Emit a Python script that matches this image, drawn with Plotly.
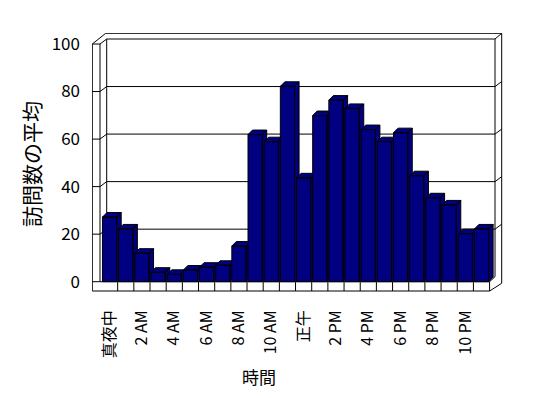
import plotly.graph_objects as go

# ---- data ----
hours = list(range(24))
visits = [27.2, 22.2, 12.0, 4.0, 3.1, 4.9, 6.1, 6.9, 15.0, 61.9, 58.9, 82.2,
          43.7, 69.9, 76.4, 72.9, 64.0, 58.9, 62.7, 44.6, 35.3, 32.3, 20.2, 22.2]
tick_hours = [0, 2, 4, 6, 8, 10, 12, 14, 16, 18, 20, 22]
tick_labels = ["真夜中", "2 AM", "4 AM", "6 AM", "8 AM", "10 AM", "正午",
               "2 PM", "4 PM", "6 PM", "8 PM", "10 PM"]
y_ticks = [0, 20, 40, 60, 80, 100]
x_title = "時間"
y_title = "訪問数の平均"

# ---- geometry helpers (pixel -> data for decorative frame) ----
CAT_PX = 16.17
X0_PX = 101.5       # pixel of category -0.5
Y0_PX = 281.7       # pixel of value 0
VAL_PX = 2.377      # pixels per unit
PAGE_OFF = 8        # default body margin of the html page


def dx(p):
    return (p - X0_PX) / CAT_PX - 0.5


def dy(p):
    return (Y0_PX - p) / VAL_PX


FONT = "Noto Sans CJK JP"
NAVY = "#000080"

XL_OUT = dx(92.3)
XL_IN = dx(100)
XB_L = dx(106.7)
XB_R = dx(495)
XO_R = dx(501.7)
XO_TL = dx(105.7)
X_FLOOR_R = 23.5
WDY = dy(276.7)          # back wall offset in value units
TOP = 100
FLOOR_B = dy(291)

# bar shape
HALF = 0.44
BDX = 4.5 / CAT_PX
BDY = 4.5 / VAL_PX

fig = go.Figure()

# frame / walls
wx, wy = [], []


def seg(pts):
    for p in pts:
        wx.append(p[0])
        wy.append(p[1])
    wx.append(None)
    wy.append(None)


seg([(XL_OUT, TOP), (XL_OUT, FLOOR_B), (X_FLOOR_R, FLOOR_B), (X_FLOOR_R, 0), (XL_OUT, 0)])
seg([(XL_IN, TOP), (XL_IN, 0)])
seg([(XB_L, TOP + WDY), (XB_L, WDY)])
seg([(XL_OUT, TOP), (XL_IN, TOP), (XB_L, TOP + WDY), (XB_R, TOP + WDY), (XB_R, WDY)])
seg([(XL_OUT, TOP), (XO_TL, dy(33.3)), (XO_R, dy(33.3)), (XO_R, dy(283.3)), (X_FLOOR_R, FLOOR_B)])
seg([(XB_R, TOP + WDY), (XO_R, dy(33.3))])
seg([(X_FLOOR_R, 0), (XB_R, WDY)])
for i in range(23):
    seg([(i + 0.5, 0), (i + 0.5, FLOOR_B)])

fig.add_trace(go.Scatter(x=wx, y=wy, mode="lines", line=dict(color="black", width=1),
                         hoverinfo="skip", showlegend=False, cliponaxis=False))

# gridlines on walls
gx, gy = [], []
for v in y_ticks[1:-1]:
    gx += [XL_OUT, XL_IN, XB_L, XB_R, XO_R, None]
    gy += [v, v, v + WDY, v + WDY, v + 2 * WDY, None]
fig.add_trace(go.Scatter(x=gx, y=gy, mode="lines", line=dict(color="black", width=1),
                         hoverinfo="skip", showlegend=False, cliponaxis=False))

# 3D bars, drawn left to right
for h, v in zip(hours, visits):
    l, r = h - HALF, h + HALF
    xs = [l, r, r, l, l, None,
          l, r, r + BDX, l + BDX, l, None,
          r, r + BDX, r + BDX, r, r]
    ys = [0, 0, v, v, 0, None,
          v, v, v + BDY, v + BDY, v, None,
          0, BDY, v + BDY, v, 0]
    fig.add_trace(go.Scatter(x=xs, y=ys, mode="lines", fill="toself", fillcolor=NAVY,
                             line=dict(color="black", width=1), showlegend=False,
                             hovertemplate=f"{h}: {v}<extra></extra>"))

# plot-area edges in screen pixels
PL, PR, PT, PB = 92, 505, 33, 292
W, H = 548, 398
L = PL - PAGE_OFF
T = PT - PAGE_OFF
R = W - (PR - PAGE_OFF)
B = H - (PB - PAGE_OFF)


def px_paper_x(p):
    return (p - PL) / (PR - PL)


def px_paper_y(p):
    return (PB - p) / (PB - PT)


fig.update_layout(
    width=W, height=H,
    margin=dict(l=L, r=R, t=T, b=B, autoexpand=False),
    paper_bgcolor="white", plot_bgcolor="white",
    font=dict(family=FONT, size=14, color="black"),
    showlegend=False,
    xaxis=dict(range=[dx(PL), dx(PR)], tickmode="array", tickvals=tick_hours,
               ticktext=tick_labels, tickangle=-90, showgrid=False, zeroline=False,
               showline=False, ticks="", ticklabelstandoff=14,
               tickfont=dict(family=FONT, size=16, color="black")),
    yaxis=dict(range=[dy(PB), dy(PT)], tickmode="array", tickvals=y_ticks,
               showgrid=False, zeroline=False, showline=False, ticks="",
               ticklabelstandoff=11, tickfont=dict(family=FONT, size=17, color="black")),
    annotations=[
        dict(text=x_title, x=px_paper_x(259), y=px_paper_y(376),
             xref="paper", yref="paper", showarrow=False,
             xanchor="center", yanchor="middle",
             font=dict(family=FONT, size=17)),
        dict(text=y_title, x=px_paper_x(31), y=px_paper_y(164),
             xref="paper", yref="paper", showarrow=False, textangle=-90,
             xanchor="center", yanchor="middle",
             font=dict(family=FONT, size=21)),
    ],
)

fig.write_html("out.html")
